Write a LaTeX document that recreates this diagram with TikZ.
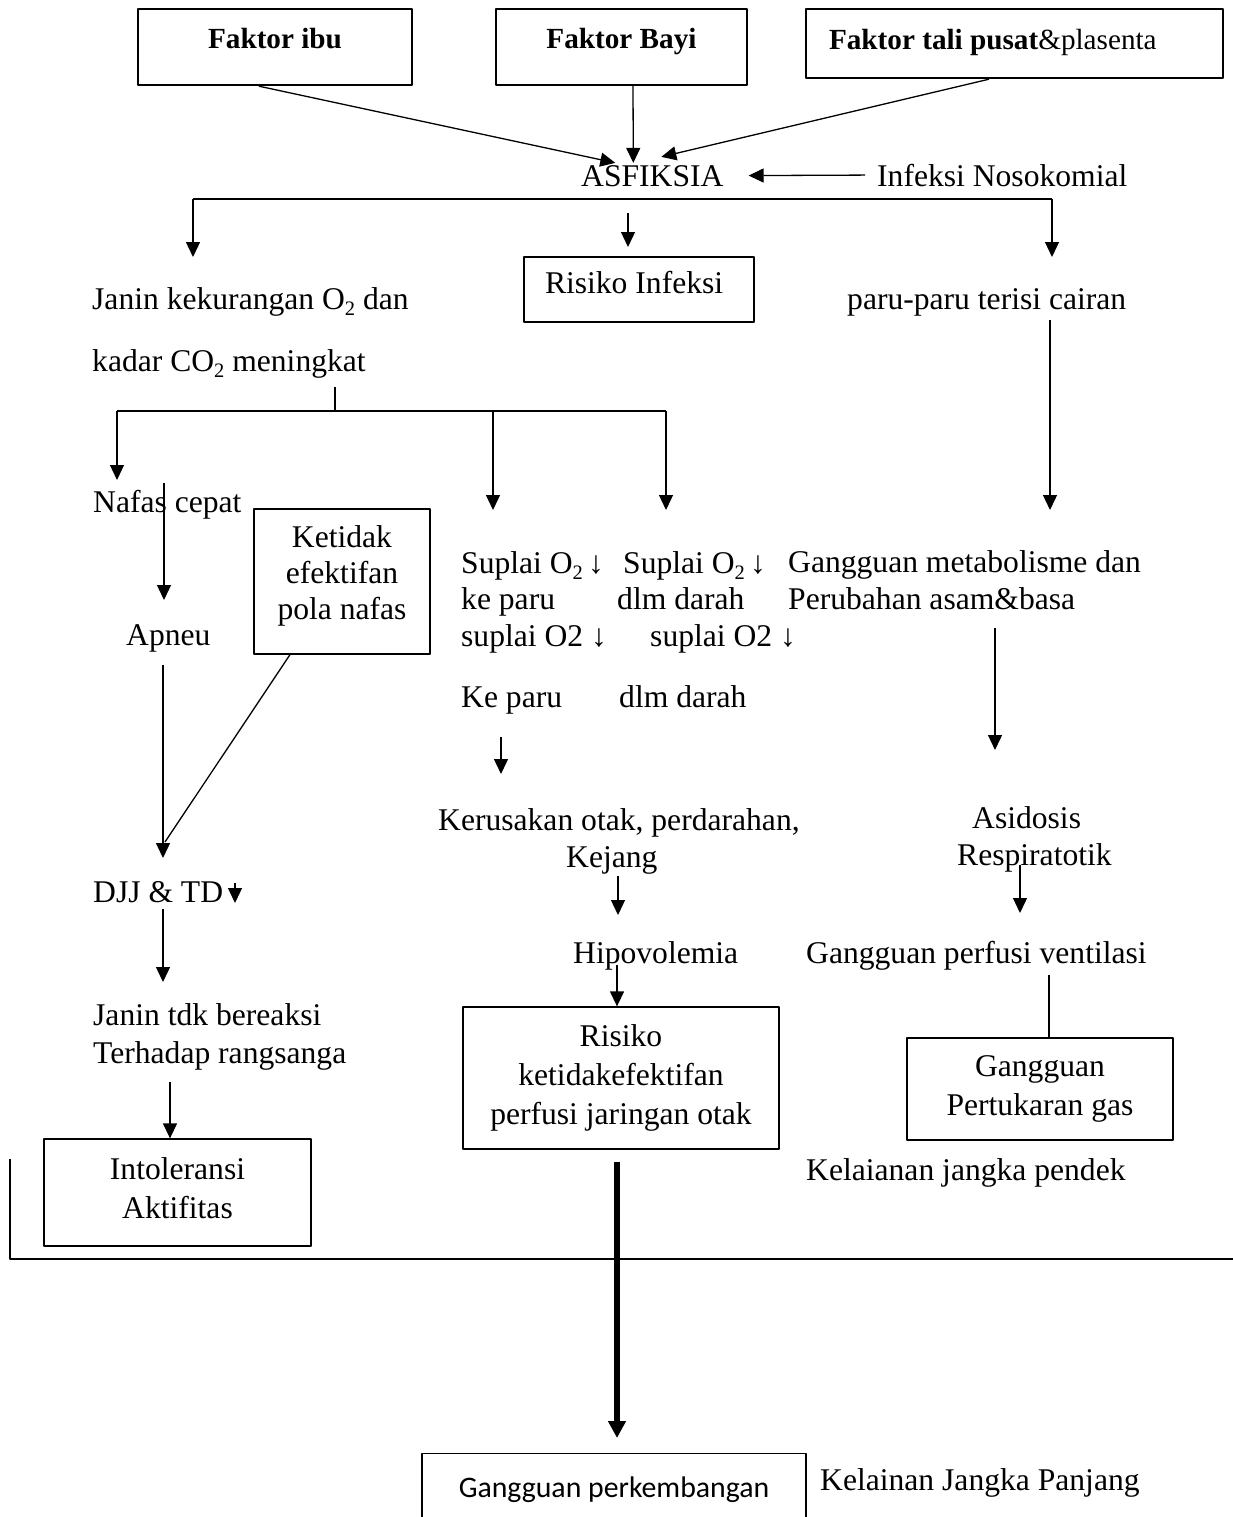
\documentclass[tikz,border=0pt]{standalone}
\usepackage{fontspec}
\setmainfont{Liberation Serif}
\newfontfamily\calibri{Carlito}
\usetikzlibrary{arrows.meta}
\newcommand{\turun}[1]{\raisebox{-0.2em}{\fontsize{20.5}{20}\selectfont #1}}

\begin{document}
\begin{tikzpicture}[x=1pt, y=-1pt, line join=round, >={Triangle[width=14pt,length=15pt]},
	font=\fontsize{31.6}{38}\selectfont,
	teks/.style={anchor=base west, inner sep=0pt},
	kotak/.style={draw, line width=1.3pt, inner sep=0pt, align=center},
	judul/.style={kotak, line width=2.4pt, font=\fontsize{29.2}{35}\selectfont, text height=22pt},
	garis/.style={line width=1.3pt},
	panah/.style={garis, ->}]
	\useasboundingbox (0,0) rectangle (1233,1517);
	\clip (0,0) rectangle (1233,1517);

	% Kotak faktor
	\node[judul, minimum width=274pt, minimum height=76pt, text depth=18pt] (ibu) at (275,47) {\textbf{Faktor ibu}};
	\node[judul, minimum width=251pt, minimum height=76pt, text depth=18pt] (bayi) at (621.5,47) {\textbf{Faktor Bayi}};
	\node[judul, minimum height=69pt, text width=371pt, inner xsep=23pt, align=flush left, text depth=9pt] (tali) at (1014.5,43.5) {\textbf{Faktor tali pusat}\&plasenta};

	% ASFIKSIA
	\node[teks] (asf) at (581,186) {ASFIKSIA};
	\node[teks] (infeksi) at (877,186) {Infeksi Nosokomial};
	\node[kotak, minimum height=65pt, text width=188pt, inner xsep=21pt, align=flush left, text height=22pt, text depth=15pt] (risiko) at (639,289.5) {Risiko Infeksi};
	\node[teks] (janin1) at (92,309) {Janin kekurangan O\turun{2} dan};
	\node[teks] (janin2) at (92,371) {kadar CO\turun{2} meningkat};
	\node[teks] (paru) at (847,309) {paru-paru terisi cairan};

	% Kolom kiri
	\node[teks] (nafas) at (93,512) {Nafas cepat};
	\node[teks] (apneu) at (126,645) {Apneu};
	\node[kotak, minimum width=176pt, minimum height=145pt, font=\fontsize{31.6}{36}\selectfont, text depth=18.5pt] (ketidak) at (342,581.5) {Ketidak\\efektifan\\pola nafas};
	\node[teks] (djj) at (93,902) {DJJ \& TD};
	\node[teks] (reaksi1) at (93,1025) {Janin tdk bereaksi};
	\node[teks] (reaksi2) at (93,1063) {Terhadap rangsanga};
	\node[kotak, minimum width=267pt, minimum height=107pt, font=\fontsize{31.6}{39}\selectfont, text depth=9.5pt] (intol) at (177.5,1192.5) {Intoleransi\\Aktifitas};

	% Kolom tengah
	\node[teks] (sup1) at (461,573) {Suplai O\turun{2}\,↓};
	\node[teks] (sup2) at (623,573) {Suplai O\turun{2}\,↓};
	\node[teks] (keparu1) at (461,609) {ke paru};
	\node[teks] (darah1) at (617,609) {dlm darah};
	\node[teks] (sup3) at (461,646) {suplai O2 ↓};
	\node[teks] (sup4) at (650,646) {suplai O2 ↓};
	\node[teks] (keparu2) at (461,707) {Ke paru};
	\node[teks] (darah2) at (619,707) {dlm darah};
	\node[teks] (rusak) at (438,830) {Kerusakan otak, perdarahan,};
	\node[teks] (kejang) at (566,867) {Kejang};
	\node[teks] (hipo) at (573,963) {Hipovolemia};
	\node[kotak, minimum width=316pt, minimum height=142pt, font=\fontsize{31.6}{39}\selectfont] (otak) at (621,1078) {Risiko\\ketidakefektifan\\perfusi jaringan otak};

	% Kolom kanan
	\node[teks] (meta1) at (788,572) {Gangguan metabolisme dan};
	\node[teks] (meta2) at (788,609) {Perubahan asam\&basa};
	\node[teks] (asidosis) at (972,828) {Asidosis};
	\node[teks] (resp) at (957,865) {Respiratotik};
	\node[teks] (perfusi) at (806,963) {Gangguan perfusi ventilasi};
	\node[kotak, minimum width=266pt, minimum height=102pt, font=\fontsize{31.6}{39}\selectfont] (gas) at (1040,1089) {Gangguan\\Pertukaran gas};
	\node[teks] (pendek) at (806,1180) {Kelaianan jangka pendek};

	% Jangka panjang
	\node[kotak, anchor=north, minimum width=384pt, minimum height=72pt, font=\calibri\fontsize{29.8}{36}\selectfont] (kembang) at (614,1453) {Gangguan perkembangan};
	\node[teks] (panjang) at (820,1490) {Kelainan Jangka Panjang};

	% Titik bantu ujung panah
	\foreach \n/\x/\y in {a1/193/199, a2/1052/199, a1t/193/257, a2t/1052/257,
		r1/628/213, r2/628/247, p1/1050/320, p2/1050/510,
		b0/335/387, b1/335/411, bL/117/411, bM/493/411, bR/666/411,
		bLt/117/480, bMt/493/510, bRt/666/510,
		n1/164/483, n2/164/600, n3/163/665, n4/163/858, n5/165/842,
		t1/235/883, t2/235/903, j1/163/909, j2/163/982, j3/170/1082,
		k1/501/737, k2/501/774, g1/618/876, g2/618/915, h1/617/965,
		o1/617/1162, o2/617/1438, m1/995/628, m2/995/750,
		s1/1020/865, s2/1020/913, v1/1049/975,
		L1/10/1159, L3/1240/1259}
		\coordinate (\n) at (\x,\y);

	% Faktor -> ASFIKSIA
	\draw[panah] ([xshift=-16pt]ibu.south) -- ([xshift=-37pt,yshift=2pt]asf.north);
	\draw[panah] ([xshift=11.5pt]bayi.south) -- ([xshift=-19pt,yshift=2pt]asf.north);
	\draw[panah] ([xshift=-25.5pt]tali.south) -- ([xshift=9pt,yshift=8pt]asf.north);
	\draw[panah, shorten <=12pt, shorten >=25pt] (infeksi.west) -- (asf.east);

	% Cabang ASFIKSIA
	\draw[garis] (a1) -- (a2);
	\draw[panah] (a1) -- (a1t);
	\draw[panah] (a2) -- (a2t);
	\draw[panah] (r1) -- (r2);
	\draw[panah] (p1) -- (p2);

	% Cabang janin
	\draw[garis] (b0) -- (b1);
	\draw[garis] (bL) -- (bR);
	\foreach \s/\t in {bL/bLt, bM/bMt, bR/bRt}
		\draw[panah] (\s) -- (\t);

	% Kiri
	\draw[panah] (n1) -- (n2);
	\draw[panah] (n3) -- (n4);
	\draw[garis] ([xshift=-52pt]ketidak.south) -- (n5);
	\draw[panah] (t1) -- (t2);
	\draw[panah] (j1) -- (j2);
	\draw[panah] (j3) -- ([xshift=-7.5pt]intol.north);

	% Tengah
	\draw[panah] (k1) -- (k2);
	\draw[panah] (g1) -- (g2);
	\draw[panah] (h1) -- ([xshift=-4pt]otak.north);
	\draw[line width=5.5pt, -{Triangle[width=17pt,length=17pt]}] (o1) -- (o2);

	% Kanan
	\draw[panah] (m1) -- (m2);
	\draw[panah] (s1) -- (s2);
	\draw[garis] (v1) -- ([xshift=9pt]gas.north);

	% Garis batas
	\draw[garis] (L1) |- (L3);
\end{tikzpicture}
\end{document}
